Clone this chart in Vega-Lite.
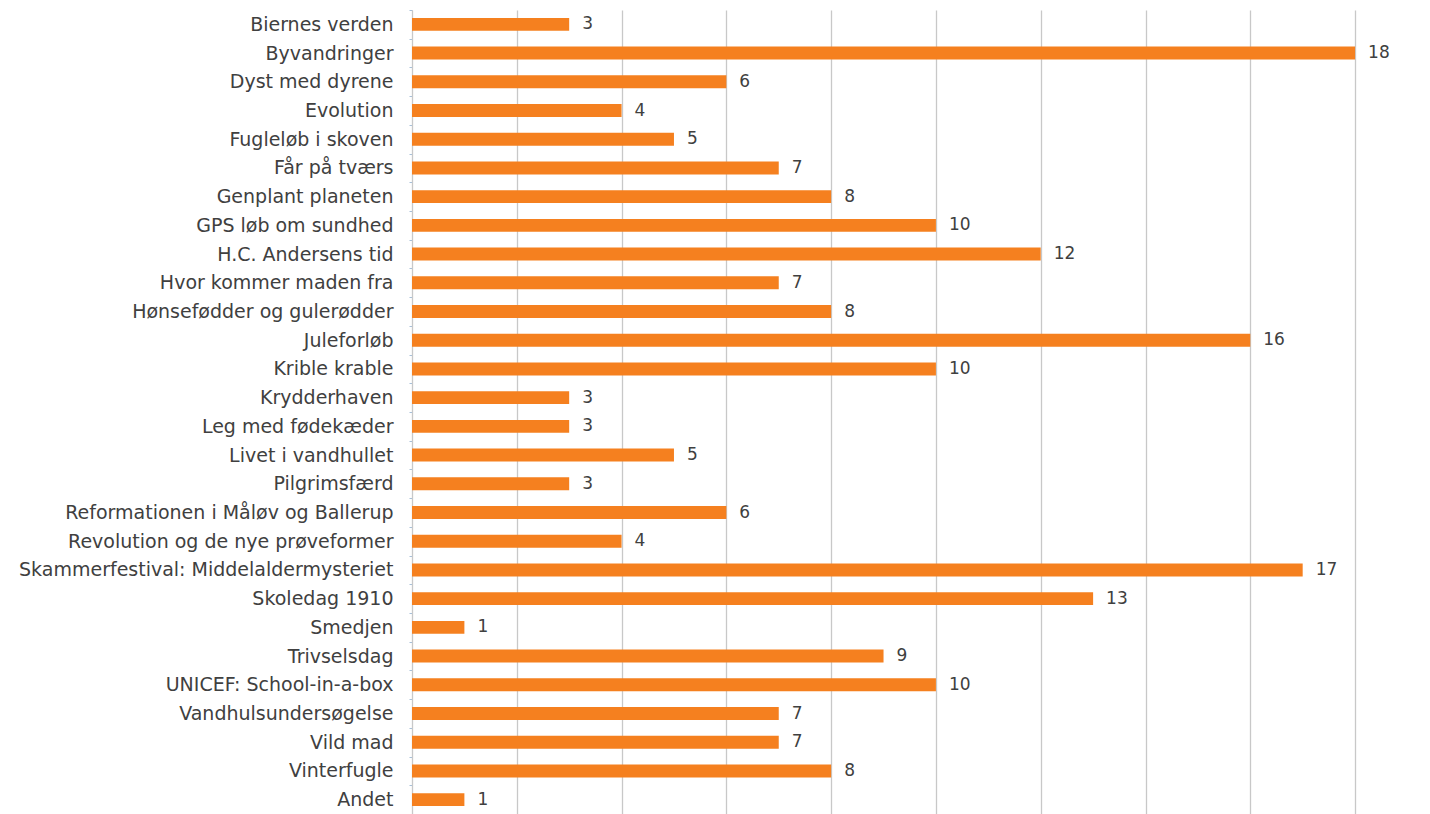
{
  "$schema": "https://vega.github.io/schema/vega-lite/v6.json",
  "autosize": "none",
  "padding": {"left": 412, "top": 10, "right": 0, "bottom": 0},
  "width": 1018,
  "height": 804,
  "background": "white",
  "config": {"view": {"stroke": null}, "font": "DejaVu Sans"},
  "data": {"values": [
    {"k": "Biernes verden", "v": 3},
    {"k": "Byvandringer", "v": 18},
    {"k": "Dyst med dyrene", "v": 6},
    {"k": "Evolution", "v": 4},
    {"k": "Fugleløb i skoven", "v": 5},
    {"k": "Får på tværs", "v": 7},
    {"k": "Genplant planeten", "v": 8},
    {"k": "GPS løb om sundhed", "v": 10},
    {"k": "H.C. Andersens tid", "v": 12},
    {"k": "Hvor kommer maden fra", "v": 7},
    {"k": "Hønsefødder og gulerødder", "v": 8},
    {"k": "Juleforløb", "v": 16},
    {"k": "Krible krable", "v": 10},
    {"k": "Krydderhaven", "v": 3},
    {"k": "Leg med fødekæder", "v": 3},
    {"k": "Livet i vandhullet", "v": 5},
    {"k": "Pilgrimsfærd", "v": 3},
    {"k": "Reformationen i Måløv og Ballerup", "v": 6},
    {"k": "Revolution og de nye prøveformer", "v": 4},
    {"k": "Skammerfestival: Middelaldermysteriet", "v": 17},
    {"k": "Skoledag 1910", "v": 13},
    {"k": "Smedjen", "v": 1},
    {"k": "Trivselsdag", "v": 9},
    {"k": "UNICEF: School-in-a-box", "v": 10},
    {"k": "Vandhulsundersøgelse", "v": 7},
    {"k": "Vild mad", "v": 7},
    {"k": "Vinterfugle", "v": 8},
    {"k": "Andet", "v": 1}
  ]},
  "encoding": {
    "y": {"field": "k", "type": "nominal", "sort": null,
      "scale": {"paddingInner": 0, "paddingOuter": 0},
      "axis": {"title": null, "labelFontSize": 19, "labelColor": "#404040", "labelPadding": 16,
        "labelFont": "DejaVu Sans",
        "tickBand": "extent", "tickSize": 3, "tickColor": "#a8c0d8", "domainColor": "#c8c8c8", "labelLimit": 420}},
    "x": {"field": "v", "type": "quantitative",
      "scale": {"domain": [0, 19.43], "nice": false, "zero": true},
      "axis": {"title": null, "values": [0, 2, 4, 6, 8, 10, 12, 14, 16, 18], "labels": false, "ticks": false, "domain": false,
        "grid": true, "gridColor": "#c8c8c8", "gridWidth": 1.3}}
  },
  "layer": [
    {"mark": {"type": "bar", "color": "#F5801F", "height": {"band": 0.45}}},
    {"mark": {"type": "text", "align": "left", "baseline": "middle", "dx": 13, "fontSize": 17, "color": "#404040", "font": "DejaVu Sans"},
     "encoding": {"text": {"field": "v", "type": "quantitative"}}}
  ]
}
